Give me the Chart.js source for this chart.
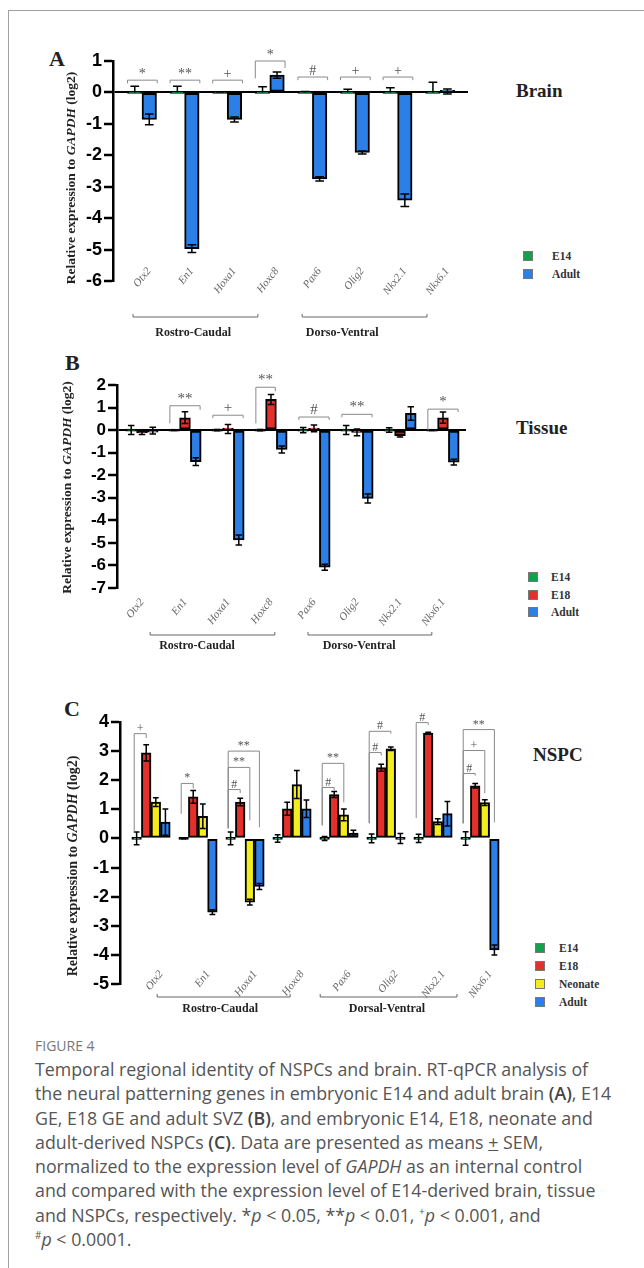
<!DOCTYPE html>
<html lang="en">
<head>
<meta charset="UTF-8">
<title>Figure 4 - regional identity of NSPCs and brain</title>
<script src="https://cdn.jsdelivr.net/npm/chart.js"></script>
<style>
    body { margin: 0; background: #fff; width: 644px; height: 1268px; position: relative; overflow: hidden; }
    .frame { position: absolute; left: 8px; top: 10px; width: 700px; height: 1300px; border: 1px solid #a0a0a0; }
    canvas { position: absolute; left: 0; }
    .txt { position: absolute; font-family: 'Liberation Serif', 'Times New Roman', serif; font-weight: bold; color: #222; white-space: nowrap; }
    .letter { font-size: 22px; line-height: 24px; }
    .title { font-size: 19px; line-height: 22px; }
    .leg { position: absolute; font-family: 'Liberation Serif', serif; font-weight: bold; font-size: 11.5px; color: #333; line-height: 10px; white-space: nowrap; }
    .leg span { position: absolute; left: 0; top: 0; width: 8px; height: 8px; border: 1px solid #777; }
    .leg b { position: absolute; top: 0; }
    .figno { position: absolute; left: 35px; top: 1036px; font-family: 'Open Sans', sans-serif; font-size: 14px; color: #777; line-height: 20px; }
    .caption { position: absolute; left: 35px; top: 1057px; font-family: 'Open Sans', sans-serif; font-size: 17.8px; color: #555; line-height: 24.3px; white-space: nowrap; }
    .caption b { font-weight: 600; color: #444; }
    .caption sup { font-size: 10px; line-height: 0; }
</style>
</head>
<body>
<div class="frame"></div>

<div class="txt letter" style="left:49px;top:47px">A</div>
<div class="txt title" style="left:516px;top:80px">Brain</div>
<div id="legA"></div>
<canvas id="chartA" width="644" height="345" style="top:0"></canvas>

<div class="txt letter" style="left:65px;top:351px">B</div>
<div class="txt title" style="left:516px;top:417px">Tissue</div>
<div id="legB"></div>
<canvas id="chartB" width="644" height="320" style="top:345px"></canvas>

<div class="txt letter" style="left:64px;top:697px">C</div>
<div class="txt title" style="left:533px;top:744px">NSPC</div>
<div id="legC"></div>
<canvas id="chartC" width="644" height="370" style="top:665px"></canvas>

<div class="figno">FIGURE 4</div>
<div class="caption">Temporal regional identity of NSPCs and brain. RT-qPCR analysis of<br>the neural patterning genes in embryonic E14 and adult brain <b>(A)</b>, E14<br>GE, E18 GE and adult SVZ <b>(B)</b>, and embryonic E14, E18, neonate and<br>adult-derived NSPCs <b>(C)</b>. Data are presented as means <u>+</u> SEM,<br>normalized to the expression level of <i>GAPDH</i> as an internal control<br>and compared with the expression level of E14-derived brain, tissue<br>and NSPCs, respectively. *<i>p</i> &lt; 0.05, **<i>p</i> &lt; 0.01, <sup>+</sup><i>p</i> &lt; 0.001, and<br><sup>#</sup><i>p</i> &lt; 0.0001.</div>

<script>
    // genes on the x axis (same for all panels)
    const genes = ['Otx2', 'En1', 'Hoxa1', 'Hoxc8', 'Pax6', 'Olig2', 'Nkx2.1', 'Nkx6.1'];

    // panel A - brain
    const brainSeries = ['E14', 'Adult'];
    const brainE14 = [0, 0, 0, 0, 0, 0, 0, 0];
    const brainE14Err = [0.2, 0.2, 0.01, 0.18, 0.03, 0.1, 0.15, 0.32];
    const brainAdult = [-0.86, -4.97, -0.86, 0.55, -2.75, -1.91, -3.43, 0.03];
    const brainAdultErr = [0.17, 0.12, 0.08, 0.1, 0.07, 0.05, 0.2, 0.08];
    const brainTicks = [1, 0, -1, -2, -3, -4, -5, -6];

    // panel B - tissue
    const tissueSeries = ['E14', 'E18', 'Adult'];
    const tissueE14 = [0, 0, 0, 0, 0, 0, 0, 0];
    const tissueE14Err = [0.2, 0.02, 0.03, 0.03, 0.12, 0.2, 0.1, 0.02];
    const tissueE18 = [-0.12, 0.55, 0.05, 1.36, 0.08, -0.1, -0.25, 0.55];
    const tissueE18Err = [0.07, 0.26, 0.2, 0.22, 0.15, 0.15, 0.05, 0.25];
    const tissueAdult = [-0.02, -1.4, -4.87, -0.86, -6.08, -3.03, 0.74, -1.42];
    const tissueAdultErr = [0.15, 0.17, 0.22, 0.16, 0.13, 0.2, 0.3, 0.13];
    const tissueTicks = [2, 1, 0, -1, -2, -3, -4, -5, -6, -7];

    // panel C - NSPC
    const nspcSeries = ['E14', 'E18', 'Neonate', 'Adult'];
    const nspcE14 = [0, 0, 0, 0, 0, 0, 0, 0];
    const nspcE14Err = [0.22, 0.01, 0.22, 0.13, 0.07, 0.15, 0.14, 0.23];
    const nspcE18 = [2.94, 1.43, 1.25, 1.02, 1.51, 2.43, 3.62, 1.81];
    const nspcE18Err = [0.28, 0.22, 0.13, 0.22, 0.1, 0.12, 0.03, 0.08];
    const nspcNeonate = [1.25, 0.76, -2.19, 1.85, 0.81, 3.08, 0.58, 1.23];
    const nspcNeonateErr = [0.15, 0.42, 0.1, 0.48, 0.2, 0.06, 0.1, 0.1];
    const nspcAdult = [0.56, -2.53, -1.65, 1.02, 0.18, 0, 0.85, -3.83];
    const nspcAdultErr = [0.45, 0.08, 0.1, 0.3, 0.1, 0.17, 0.42, 0.17];
    const nspcTicks = [4, 3, 2, 1, 0, -1, -2, -3, -4, -5];

    // significance brackets: [gene, from series, to series, level, left leg end, right leg end, mark]
    const brainSig = [
        [0, 0, 1, 0.39, 0.29, 0.29, '*'], [1, 0, 1, 0.39, 0.29, 0.29, '**'],
        [2, 0, 1, 0.39, 0.29, 0.29, '+'], [3, 0, 1, 1.0, 0.45, 0.78, '*'],
        [4, 0, 1, 0.49, 0.39, 0.39, '#'], [5, 0, 1, 0.49, 0.39, 0.39, '+'],
        [6, 0, 1, 0.49, 0.39, 0.39, '+']
    ];
    const tissueSig = [
        [1, 0, 2, 1.08, 0.3, 0.9, '**'], [2, 0, 2, 0.66, 0.53, 0.53, '+'],
        [3, 0, 1, 1.9, 0.3, 1.72, '**'], [4, 0, 2, 0.58, 0.45, 0.45, '#'],
        [5, 0, 2, 0.7, 0.57, 0.57, '**'], [7, 0, 2, 0.93, 0.0, 0.8, '*']
    ];
    const nspcSig = [
        [0, 0, 1, 3.6, 0.2, 3.45, '+'], [1, 0, 1, 1.89, 0.85, 1.72, '*'],
        [2, 0, 1, 1.68, 0.35, 1.56, '#'], [2, 0, 2, 2.44, 0.35, 0.62, '**'],
        [2, 0, 3, 3.0, 0.35, 0.38, '**'], [4, 0, 1, 1.75, 0.45, 1.65, '#'],
        [4, 0, 2, 2.58, 0.45, 1.24, '**'], [5, 0, 1, 2.95, 0.52, 2.85, '#'],
        [5, 0, 2, 3.68, 0.52, 3.6, '#'], [6, 0, 1, 3.98, 0.7, 3.9, '#'],
        [7, 0, 1, 2.23, 0.52, 2.16, '#'], [7, 0, 2, 3.02, 0.52, 1.55, '+'],
        [7, 0, 3, 3.74, 0.52, 0.55, '**']
    ];

    const seriesColors = { 'E14': '#14a04c', 'E18': '#e3302a', 'Neonate': '#f3ec1e', 'Adult': '#2b7fe6' };

    function figurePlugin(cfg) {
        return {
            id: 'figure',
            afterDatasetsDraw(chart) {
                const ctx = chart.ctx, ys = chart.scales.y;
                ctx.save();
                ctx.strokeStyle = '#000';
                ctx.lineWidth = 1.5;
                chart.data.datasets.forEach((ds, di) => {
                    chart.getDatasetMeta(di).data.forEach((bar, i) => {
                        const v = ds.data[i].y, e = ds.errors[i];
                        const cap = bar.width * 0.3;
                        const hi = ys.getPixelForValue(v + e);
                        const lo = ys.getPixelForValue(ds.errorUp ? v : v - e);
                        ctx.beginPath();
                        ctx.moveTo(bar.x, hi); ctx.lineTo(bar.x, lo);
                        ctx.moveTo(bar.x - cap, hi); ctx.lineTo(bar.x + cap, hi);
                        if (!ds.errorUp) { ctx.moveTo(bar.x - cap, lo); ctx.lineTo(bar.x + cap, lo); }
                        ctx.stroke();
                    });
                });
                ctx.restore();
            },
            afterDraw(chart) {
                const ctx = chart.ctx, xs = chart.scales.x, ys = chart.scales.y, area = chart.chartArea;
                ctx.save();
                // significance brackets
                ctx.strokeStyle = '#8a8a8a';
                ctx.lineWidth = 1;
                ctx.fillStyle = '#555';
                ctx.font = cfg.sigFont;
                ctx.textAlign = 'center';
                ctx.textBaseline = 'alphabetic';
                cfg.sig.forEach(([g, a, b, lvl, la, lb, mark]) => {
                    const ba = chart.getDatasetMeta(a).data[g], bb = chart.getDatasetMeta(b).data[g];
                    const x1 = ba.x - ba.width * cfg.sigInset[0];
                    const x2 = bb.x + bb.width * cfg.sigInset[1];
                    const y = ys.getPixelForValue(lvl);
                    ctx.beginPath();
                    ctx.moveTo(x1, ys.getPixelForValue(la));
                    ctx.lineTo(x1, y); ctx.lineTo(x2, y);
                    ctx.lineTo(x2, ys.getPixelForValue(lb));
                    ctx.stroke();
                    ctx.fillText(mark, (x1 + x2) / 2, y - cfg.sigGap);
                });
                // region brackets under the gene names
                ctx.strokeStyle = '#666';
                ctx.fillStyle = '#222';
                ctx.font = 'bold 12px "Liberation Serif"';
                ctx.textBaseline = 'middle';
                cfg.regions.forEach(([name, a, b, lx]) => {
                    const x1 = xs.getPixelForValue(a), x2 = xs.getPixelForValue(b);
                    const y = area.bottom + cfg.regionY;
                    ctx.beginPath();
                    ctx.moveTo(x1, y - 3); ctx.lineTo(x1, y); ctx.lineTo(x2, y); ctx.lineTo(x2, y - 3);
                    ctx.stroke();
                    ctx.fillText(name, xs.getPixelForValue(lx), area.bottom + cfg.regionLabelY);
                });
                // y axis title with italic gene name
                const parts = [['Relative expression to ', 'bold'], ['GAPDH', 'italic bold'], [' (log2)', 'bold']];
                const font = s => s + ' ' + cfg.titleSize + 'px "Liberation Serif"';
                let total = 0;
                parts.forEach(p => { ctx.font = font(p[1]); total += ctx.measureText(p[0]).width; });
                ctx.translate(cfg.titleX, (area.top + area.bottom) / 2 + cfg.titleShift);
                ctx.rotate(-Math.PI / 2);
                ctx.textAlign = 'left';
                let x = -total / 2;
                parts.forEach(p => {
                    ctx.font = font(p[1]);
                    ctx.fillText(p[0], x, 0);
                    x += ctx.measureText(p[0]).width;
                });
                ctx.restore();
            }
        };
    }

    function buildPanel(id, cfg) {
        const datasets = cfg.series.map((name, k) => ({
            label: name,
            data: genes.map((g, i) => ({ x: i, y: cfg.values[k][i] })),
            errors: cfg.errors[k],
            errorUp: cfg.upOnly && k === 0,
            backgroundColor: seriesColors[name],
            borderColor: '#000',
            borderWidth: 2,
            borderSkipped: false,
            barThickness: cfg.barW,
            minBarLength: 2
        }));
        new Chart(document.getElementById(id), {
            type: 'bar',
            data: { datasets },
            options: {
                responsive: false,
                animation: false,
                devicePixelRatio: 1,
                layout: { padding: { left: 0, top: cfg.top, right: cfg.right, bottom: 0 } },
                plugins: { legend: { display: false }, tooltip: { enabled: false } },
                scales: {
                    x: {
                        type: 'linear',
                        min: cfg.xMin, max: cfg.xMax,
                        offset: false,
                        afterBuildTicks: s => { s.ticks = genes.map((g, i) => ({ value: i })); },
                        afterFit: s => {
                            s.height = cfg.xHeight;
                            // gene names sit partly inside the plot, so do not clip them to the axis box
                            s._computeLabelArea = () => undefined;
                        },
                        grid: { display: false, drawTicks: false },
                        border: { display: false },
                        ticks: {
                            autoSkip: false,
                            minRotation: 52, maxRotation: 52,
                            padding: cfg.labelPad,
                            labelOffset: cfg.labelShift,
                            color: '#666',
                            font: { family: 'Liberation Serif', style: 'italic', size: 11 },
                            callback: v => genes[v]
                        }
                    },
                    y: {
                        min: Math.min(...cfg.ticks), max: Math.max(...cfg.ticks),
                        afterBuildTicks: s => { s.ticks = cfg.ticks.map(v => ({ value: v })); },
                        afterFit: s => { s.width = cfg.left; },
                        grid: {
                            color: c => (cfg.zeroLine && c.tick && c.tick.value === 0) ? '#000' : 'rgba(0,0,0,0)',
                            lineWidth: 2,
                            tickColor: '#000',
                            tickWidth: 2.5,
                            tickLength: 9
                        },
                        border: { display: true, color: '#000', width: 2.5 },
                        ticks: {
                            autoSkip: false,
                            padding: 2,
                            color: '#000',
                            font: { family: 'Liberation Sans', weight: 'bold', size: cfg.tickSize }
                        }
                    }
                }
            },
            plugins: [figurePlugin(cfg)]
        });
    }

    function buildLegend(id, series, left, tops, textLeft) {
        const box = document.getElementById(id);
        series.forEach((name, k) => {
            const row = document.createElement('div');
            row.className = 'leg';
            row.style.left = left + 'px';
            row.style.top = tops[k] + 'px';
            row.innerHTML = '<span style="background:' + seriesColors[name] + '"></span><b style="left:' + textLeft + 'px">' + name + '</b>';
            box.appendChild(row);
        });
    }

    buildPanel('chartA', {
        series: brainSeries, values: [brainE14, brainAdult], errors: [brainE14Err, brainAdultErr],
        upOnly: true, zeroLine: true, ticks: brainTicks, barW: 14.5,
        left: 113, right: 176, top: 61, xHeight: 64, xMin: -0.681, xMax: 7.653, labelPad: -16, labelShift: 7,
        tickSize: 18, sig: brainSig, sigInset: [0.5, 0.55], sigFont: '14px "Liberation Serif"', sigGap: 2,
        regions: [['Rostro-Caudal', -0.21, 2.72, 1.2], ['Dorso-Ventral', 3.76, 6.69, 4.7]],
        regionY: 36, regionLabelY: 52, titleX: 72, titleSize: 13.5, titleShift: 7
    });
    buildLegend('legA', brainSeries, 523, [251, 269], 29);

    buildPanel('chartB', {
        series: tissueSeries, values: [tissueE14, tissueE18, tissueAdult], errors: [tissueE14Err, tissueE18Err, tissueAdultErr],
        upOnly: false, zeroLine: true, ticks: tissueTicks, barW: 10.8,
        left: 117, right: 178, top: 40, xHeight: 77, xMin: -0.581, xMax: 7.535, labelPad: 8, labelShift: 0,
        tickSize: 17, sig: tissueSig, sigInset: [0.4, 0.4], sigFont: '15px "Liberation Serif"', sigGap: 3,
        regions: [['Rostro-Caudal', 0.19, 3.09, 1.28], ['Dorso-Ventral', 3.86, 6.74, 5.05]],
        regionY: 47, regionLabelY: 58, titleX: 68, titleSize: 13.5, titleShift: 1
    });
    buildLegend('legB', tissueSeries, 528, [572, 589.5, 607], 23);

    buildPanel('chartC', {
        series: nspcSeries, values: [nspcE14, nspcE18, nspcNeonate, nspcAdult],
        errors: [nspcE14Err, nspcE18Err, nspcNeonateErr, nspcAdultErr],
        upOnly: false, zeroLine: false, ticks: nspcTicks, barW: 9.6,
        left: 120, right: 124, top: 57, xHeight: 51, xMin: -0.66, xMax: 7.851, labelPad: -16, labelShift: 10,
        tickSize: 18, sig: nspcSig, sigInset: [0.25, 0], sigFont: '12px "Liberation Serif"', sigGap: 2,
        regions: [['Rostro-Caudal', 0.13, 2.96, 1.47], ['Dorsal-Ventral', 3.6, 6.51, 5.02]],
        regionY: 13, regionLabelY: 25, titleX: 73, titleSize: 14, titleShift: 13
    });
    buildLegend('legC', nspcSeries, 535, [943, 961, 979, 997], 24);
</script>
</body>
</html>
